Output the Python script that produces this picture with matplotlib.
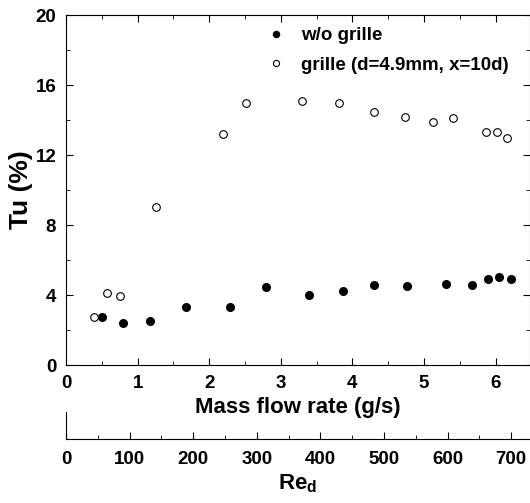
import numpy as np
import matplotlib.pyplot as plt
from matplotlib.ticker import MultipleLocator

plt.rcParams['font.family'] = ['Liberation Sans', 'DejaVu Sans']
plt.rcParams['font.weight'] = 'bold'
plt.rcParams['mathtext.fontset'] = 'custom'
plt.rcParams['mathtext.bf'] = 'Liberation Sans:bold'

# --- data ---
mfr_wo = [0.50, 0.80, 1.17, 1.67, 2.29, 2.80, 3.39, 3.87, 4.30, 4.76, 5.31, 5.67, 5.89, 6.05, 6.22]
tu_wo = [2.74, 2.40, 2.50, 3.30, 3.30, 4.46, 4.00, 4.23, 4.57, 4.51, 4.63, 4.57, 4.91, 5.03, 4.91]

mfr_gr = [0.39, 0.57, 0.75, 1.26, 2.19, 2.51, 3.30, 3.81, 4.30, 4.73, 5.13, 5.40, 5.86, 6.02, 6.16]
tu_gr = [2.74, 4.10, 3.94, 9.03, 13.2, 15.0, 15.1, 14.97, 14.46, 14.2, 13.9, 14.1, 13.3, 13.3, 13.0]

W, H = 530, 503
fig = plt.figure(figsize=(W / 100, H / 100), dpi=100)

# secondary Re_d axis (drawn first, transparent background)
ax2 = fig.add_axes([66 / W, 1 - 439 / H, (530 - 66) / W, 27 / H])
ax2.patch.set_visible(False)
ax2.set_xlim(0, 464 / 63.6 * 100)
ax2.set_ylim(0, 1)
ax2.set_yticks([])
ax2.spines['top'].set_visible(False)
ax2.spines['right'].set_visible(False)
ax2.xaxis.set_major_locator(MultipleLocator(100))
ax2.xaxis.set_minor_locator(MultipleLocator(50))
ax2.tick_params(which='both', direction='in', labelsize=13.5)
ax2.tick_params(which='major', length=5, pad=9)
ax2.tick_params(which='minor', length=3)
ax2.set_xlabel('Re$_\\mathbf{d}$', fontsize=16, fontweight='bold', labelpad=3)

# main axes
ax = fig.add_axes([66 / W, 1 - 365 / H, (530 - 66) / W, (365 - 15) / H])
ax.plot(mfr_wo, tu_wo, 'o', ms=5.5, color='black', label='w/o grille')
ax.plot(mfr_gr, tu_gr, 'o', ms=5.5, mfc='white', mec='black', mew=0.8,
        label='grille (d=4.9mm, x=10d)')
ax.set_xlim(0, 464 / 71.6)
ax.set_ylim(0, 20)
ax.xaxis.set_major_locator(MultipleLocator(1))
ax.xaxis.set_minor_locator(MultipleLocator(0.5))
ax.yaxis.set_major_locator(MultipleLocator(4))
ax.yaxis.set_minor_locator(MultipleLocator(2))
ax.tick_params(which='both', direction='in', top=True, right=True, labelsize=13.5)
ax.tick_params(which='major', length=5, pad=7)
ax.tick_params(which='minor', length=3)
ax.set_xlabel('Mass flow rate (g/s)', fontsize=16, fontweight='bold', labelpad=4)
ax.set_ylabel('Tu (%)', fontsize=19, fontweight='bold', labelpad=2)
ax.legend(loc='upper left', bbox_to_anchor=(0.375, 1.014), frameon=False,
          fontsize=13.5, handletextpad=0.35, labelspacing=0.67, markerscale=0.8)

fig.savefig('out.png', dpi=100)
